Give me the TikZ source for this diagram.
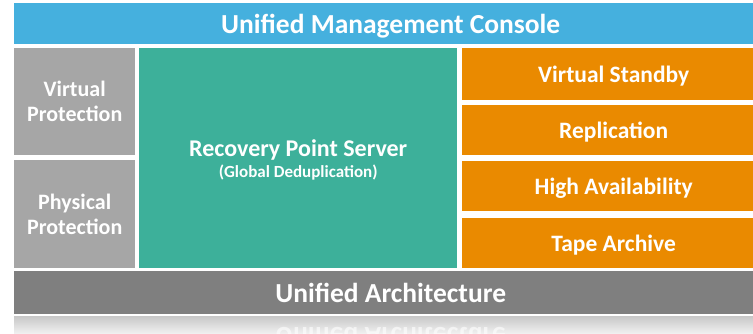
\documentclass[tikz,border=0pt]{standalone}
\usepackage{fontspec}
\setmainfont{Carlito}
\usepackage{xcolor}
\usetikzlibrary{positioning}

\definecolor{consoleblue}{HTML}{45B0DE}
\definecolor{protgray}{HTML}{A6A6A6}
\definecolor{rpsgreen}{HTML}{3DB09A}
\definecolor{featorange}{HTML}{EA8A00}
\definecolor{archgray}{HTML}{7F7F7F}

\begin{document}
\begin{tikzpicture}[x=1pt,y=-1pt,
    block/.style={inner sep=0pt, text=white, font=\bfseries, align=center, anchor=north west},
    nudge/.style={execute at begin node=\hspace*{#1}},
    sidebox/.style={block, fill=protgray, minimum width=121pt, font=\bfseries\fontsize{22}{25}\selectfont},
    featbox/.style={block, nudge=12pt, text depth=0pt, fill=featorange, minimum width=291pt, minimum height=50pt, font=\bfseries\fontsize{23.5}{26}\selectfont},
    barbox/.style={block, nudge=14pt, text depth=0pt, minimum width=739pt, font=\bfseries\fontsize{27.5}{30}\selectfont}]
    \useasboundingbox (0,0) rectangle (753,334);

    % Top bar
    \node[barbox, fill=consoleblue, minimum height=41pt] (console) at (14,3) {Unified Management Console};

    % Protection column
    \node[sidebox, minimum height=107pt] (vprot) at (14,48) {Virtual\\Protection};
    \node[sidebox, minimum height=108pt] (pprot) at (14,160) {Physical\\Protection};

    % Recovery point server
    \node[block, fill=rpsgreen, minimum width=318pt, minimum height=220pt, text depth=0pt,
        font=\bfseries\fontsize{17}{21}\selectfont] (rps) at (139,48)
        {{\fontsize{24}{21}\selectfont Recovery Point Server}\\
         (Global Deduplication)};

    % Feature stack
    \node[featbox, minimum height=52pt] (standby) at (462,48) {Virtual Standby};
    \node[featbox] (replica) at (462,105) {Replication};
    \node[featbox] (avail) at (462,161) {High Availability};
    \node[featbox] (tape) at (462,218) {Tape Archive};

    % Bottom bar
    \node[barbox, fill=archgray, minimum height=43pt] (arch) at (14,271) {Unified Architecture};

    % Reflection
    \shade[top color=black!22, bottom color=black!5] (14,316) rectangle (753,334);
    \begin{scope}
        \clip (14,316) rectangle (753,334);
        \begin{scope}[shift={(390.5,327)}, yscale=-1]
            \node[transform shape, anchor=base, text=white, opacity=0.6, inner sep=0pt,
                font=\bfseries\fontsize{27.5}{30}\selectfont] (archmirror) at (0,0) {Unified Architecture};
        \end{scope}
    \end{scope}
\end{tikzpicture}
\end{document}
